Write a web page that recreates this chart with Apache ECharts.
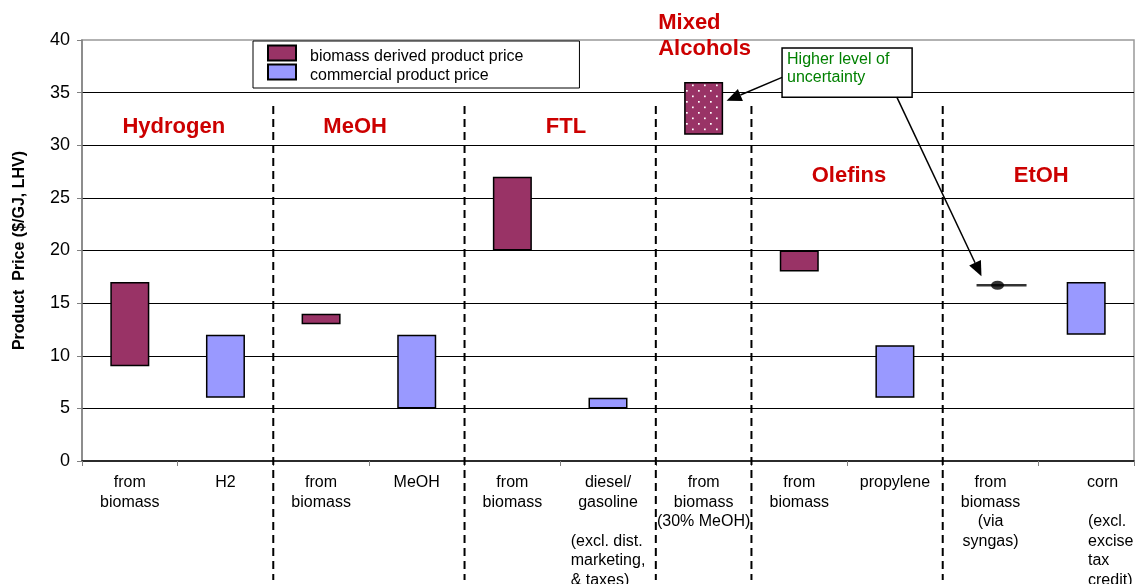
<!DOCTYPE html>
<html><head><meta charset="utf-8">
<script src="https://cdn.jsdelivr.net/npm/echarts@6/dist/echarts.min.js"></script>
<style>html,body{margin:0;padding:0;background:#fff}#c{width:1138px;height:584px}</style>
</head><body><div id="c"></div>
<script>
// ---------------- data ----------------
const categories = [
  'from\nbiomass', 'H2', 'from\nbiomass', 'MeOH', 'from\nbiomass',
  'diesel/\ngasoline\n\n(excl. dist.\nmarketing,\n& taxes)',
  'from\nbiomass\n(30% MeOH)', 'from\nbiomass', 'propylene',
  'from\nbiomass\n(via\nsyngas)', 'corn\n\n(excl.\nexcise\ntax\ncredit)'
];
const biomassLow     = [9,    null, 13,   null, 20,   null, 31,   18,   null, null, null];
const biomassHigh    = [17,   null, 14,   null, 27,   null, 36,   20,   null, null, null];
const commercialLow  = [null, 6,    null, 5,    null, 5,    null, null, 6,    null, 12];
const commercialHigh = [null, 12,   null, 12,   null, 6,    null, null, 11,   null, 17];
const pointEstimate  = [null, null, null, null, null, null, null, null, null, 16.7, null];
const uncertain      = [false,false,false,false,false,false,true, false,false,false,false];
const groupNames = ['Hydrogen', 'MeOH', 'FTL', 'Mixed\nAlcohols', 'Olefins', 'EtOH'];
const seriesNames = ['biomass derived product price', 'commercial product price'];
const noteText = 'Higher level of\nuncertainty';

// ---------------- layout (category units / axis values) ----------------
const groupLayout = [
  {pos: 0.96, val: 31.75}, {pos: 2.856, val: 31.75}, {pos: 5.06, val: 31.75},
  {pos: 6.025, val: 42.9, left: true}, {pos: 8.02, val: 27.05}, {pos: 10.03, val: 27.05}
];
const separators = [2, 4, 6, 7, 9];

const BIO = '#993366', COM = '#9999FF', RED = '#CC0000';

function dotPattern() {
  const c = document.createElement('canvas');
  c.width = 12; c.height = 11;
  const g = c.getContext('2d');
  g.fillStyle = BIO; g.fillRect(0, 0, 12, 11);
  g.fillStyle = '#ffffff';
  g.fillRect(2, 2, 1.7, 1.7);
  g.fillRect(8, 7.5, 1.7, 1.7);
  return c;
}
const pattern = {image: dotPattern(), repeat: 'repeat'};

const baseData = categories.map((_, i) => biomassLow[i] != null ? biomassLow[i] : commercialLow[i]);
const bioData = categories.map((_, i) => {
  if (biomassLow[i] == null) return '-';
  const v = biomassHigh[i] - biomassLow[i];
  return uncertain[i] ? {value: v, itemStyle: {color: pattern}} : v;
});
const comData = categories.map((_, i) => commercialLow[i] == null ? '-' : commercialHigh[i] - commercialLow[i]);
const pointData = pointEstimate.map(v => v == null ? '-' : v);

const chart = echarts.init(document.getElementById('c'), null, {renderer: 'canvas'});
const FONT = 'Liberation Sans, Arial, sans-serif';

const option = {
  animation: false,
  textStyle: {fontFamily: FONT},
  grid: {left: 82, right: 4, top: 40, bottom: 123, containLabel: false, outerBoundsMode: 'none',
         show: true, borderColor: '#999', borderWidth: 1.5},
  legend: {
    orient: 'vertical', left: 253, top: 41,
    data: seriesNames, icon: 'rect', itemWidth: 28, itemHeight: 15, itemGap: -5,
    padding: [0, 56, 4, 14], borderColor: '#000', borderWidth: 1, backgroundColor: '#fff',
    formatter: name => '{t|' + name + '}',
    textStyle: {fontSize: 16, color: '#000', fontFamily: FONT,
      rich: {t: {fontSize: 16, lineHeight: 14, color: '#000', fontFamily: FONT, padding: [8, 0, 0, 9]}}},
    selectedMode: false
  },
  xAxis: {
    type: 'category', data: categories,
    axisLine: {lineStyle: {color: '#000', width: 1.5}},
    axisTick: {show: true, length: 5, lineStyle: {color: '#808080'}},
    axisLabel: {
      interval: 0, fontSize: 16, color: '#000', lineHeight: 19.5, margin: 12, fontFamily: FONT,
      formatter: (val, idx) => {
        const parts = val.split('\n\n');
        if (parts.length === 1) return val;
        const last = idx === categories.length - 1;
        const head = last ? parts[0].split('\n').map(s => '{cc|' + s + '}').join('\n') : parts[0];
        const tag = last ? 'cl' : 'l';
        return head + '\n\n' + parts[1].split('\n').map(s => '{' + tag + '|' + s + '}').join('\n');
      },
      rich: {
        l: {align: 'left', fontSize: 16, lineHeight: 19.5, color: '#000', fontFamily: FONT},
        cl: {align: 'left', fontSize: 16, lineHeight: 19.5, color: '#000', padding: [0, 0, 0, 49], fontFamily: FONT},
        cc: {fontSize: 16, lineHeight: 19.5, color: '#000', padding: [0, 0, 0, 33], fontFamily: FONT}
      }
    },
    splitLine: {show: false}
  },
  yAxis: {
    type: 'value', min: 0, max: 40, interval: 5,
    name: 'Product  Price ($/GJ, LHV)', nameLocation: 'middle', nameGap: 54,
    nameTextStyle: {fontSize: 16, fontWeight: 'bold', color: '#000', fontFamily: FONT},
    axisLine: {show: true, lineStyle: {color: '#808080', width: 1.5}},
    axisTick: {show: true, length: 5, lineStyle: {color: '#808080'}},
    axisLabel: {fontSize: 18, color: '#000', margin: 12, fontFamily: FONT},
    splitLine: {show: true, showMaxLine: false, showMinLine: false, lineStyle: {color: '#000', width: 1}}
  },
  series: [
    {name: 'base', type: 'bar', stack: 'r', data: baseData, barWidth: 39, silent: true,
     itemStyle: {color: 'rgba(0,0,0,0)'}, emphasis: {disabled: true}},
    {name: seriesNames[0], type: 'bar', stack: 'r', data: bioData, barWidth: 39,
     itemStyle: {color: BIO, borderColor: '#000', borderWidth: 1.5}},
    {name: seriesNames[1], type: 'bar', stack: 'r', data: comData, barWidth: 39,
     itemStyle: {color: COM, borderColor: '#000', borderWidth: 1.5}},
    {name: 'estimate-line', type: 'scatter', data: pointData, symbol: 'rect', symbolSize: [50, 2.6],
     symbolOffset: [11, 0], itemStyle: {color: '#000'}, silent: true, z: 5},
    {name: 'estimate-dot', type: 'scatter', data: pointData, symbol: 'circle', symbolSize: [13, 9],
     symbolOffset: [7, 0], itemStyle: {color: '#000'}, silent: true, z: 6}
  ]
};
chart.setOption(option);

function buildGraphics() {
  const c0 = chart.convertToPixel({xAxisIndex: 0}, 0);
  const c1 = chart.convertToPixel({xAxisIndex: 0}, 1);
  const step = c1 - c0, left = c0 - step / 2;
  const X = p => left + p * step;
  const Y = v => chart.convertToPixel({yAxisIndex: 0}, v);
  const els = [];
  separators.forEach(p => {
    els.push({type: 'line', z: 50, silent: true,
      shape: {x1: X(p), y1: Y(33.74), x2: X(p), y2: Y(-11.3)},
      style: {stroke: '#000', lineWidth: 2, lineDash: [8, 5]}});
  });
  groupNames.forEach((t, i) => {
    const L = groupLayout[i];
    els.push({type: 'text', z: 60, silent: true, x: X(L.pos), y: Y(L.val),
      style: {text: t, fill: RED, font: 'bold 22px ' + FONT, align: L.left ? 'left' : 'center',
        verticalAlign: L.left ? 'top' : 'middle', lineHeight: 26.5}});
  });
  // note box
  const bx1 = X(7.32), bx2 = X(8.68), by1 = Y(39.24), by2 = Y(34.57);
  els.push({type: 'rect', z: 70, silent: true, shape: {x: bx1, y: by1, width: bx2 - bx1, height: by2 - by1},
    style: {fill: '#fff', stroke: '#000', lineWidth: 1.5}});
  els.push({type: 'text', z: 71, silent: true, x: bx1 + 5, y: by1 + 2,
    style: {text: noteText, fill: '#008000', font: '16px ' + FONT, lineHeight: 18.6, align: 'left', verticalAlign: 'top'}});
  function arrow(x1, y1, x2, y2) {
    const dx = x2 - x1, dy = y2 - y1, L = Math.hypot(dx, dy), ux = dx / L, uy = dy / L;
    const hl = 15, hw = 6.5, bx = x2 - ux * hl, by = y2 - uy * hl;
    els.push({type: 'line', z: 72, silent: true, shape: {x1, y1, x2: bx, y2: by}, style: {stroke: '#000', lineWidth: 1.5}});
    els.push({type: 'polygon', z: 72, silent: true,
      shape: {points: [[x2, y2], [bx - uy * hw, by + ux * hw], [bx + uy * hw, by - ux * hw]]}, style: {fill: '#000'}});
  }
  arrow(bx1, Y(36.45), X(6.74), Y(34.22));
  arrow(X(8.52), by2, X(9.405), Y(17.55));
  chart.setOption({graphic: {elements: els}});
}
buildGraphics();
</script></body></html>
